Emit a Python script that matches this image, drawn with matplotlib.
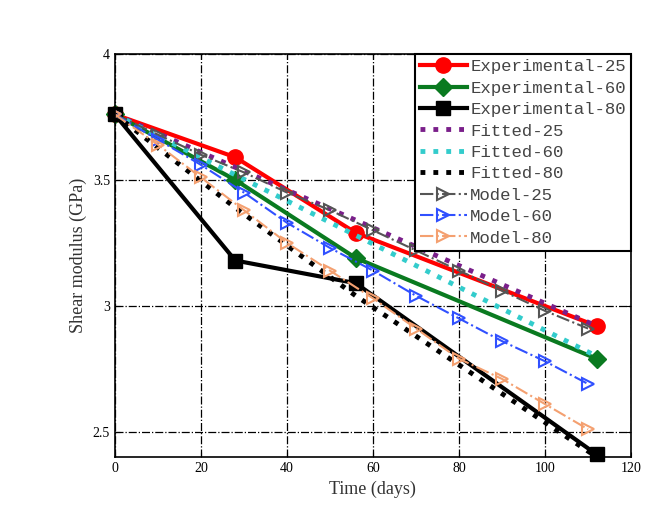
import numpy as np
import matplotlib; matplotlib.use("Agg")
import matplotlib.pyplot as plt
from matplotlib.ticker import FormatStrFormatter

plt.rcParams["font.family"] = ["Liberation Serif", "DejaVu Serif"]

# experimental data (days, GPa)
t_exp = [0, 28, 56, 112]
exp25 = [3.76, 3.59, 3.29, 2.92]
exp60 = [3.76, 3.50, 3.19, 2.79]
exp80 = [3.76, 3.18, 3.09, 2.41]

# fitted curves
t_fit = [0, 28, 56, 84, 112]
fit25 = [3.76, 3.55, 3.34, 3.13, 2.92]
fit60 = [3.76, 3.52, 3.28, 3.04, 2.80]
fit80 = [3.76, 3.39, 3.04, 2.72, 2.40]

# model predictions
t_mod = [0, 10, 20, 30, 40, 50, 60, 70, 80, 90, 100, 110]
mod25 = [3.76, 3.68, 3.60, 3.53, 3.45, 3.38, 3.30, 3.22, 3.14, 3.06, 2.98, 2.91]
mod60 = [3.76, 3.66, 3.56, 3.45, 3.33, 3.23, 3.14, 3.04, 2.95, 2.86, 2.78, 2.69]
mod80 = [3.76, 3.64, 3.51, 3.38, 3.25, 3.14, 3.03, 2.91, 2.79, 2.71, 2.61, 2.51]

xticks = [0, 20, 40, 60, 80, 100, 120]
yticks = [2.5, 3, 3.5, 4]

fig = plt.figure(figsize=(6.56, 5.19), dpi=100)
ax = fig.add_axes([0.175, 0.1195, 0.787, 0.7765])

ax.plot(t_exp, exp25, "-o", color="red", lw=3, ms=11, label="Experimental-25", clip_on=False)
ax.plot(t_exp, exp60, "-D", color="#0a7a20", lw=3, ms=9, label="Experimental-60", clip_on=False)
ax.plot(t_exp, exp80, "-s", color="black", lw=3, ms=10, label="Experimental-80", clip_on=False)

ax.plot(t_fit, fit25, ":", color="#7a1f8a", lw=3.5, label="Fitted-25")
ax.plot(t_fit, fit60, ":", color="#33cccc", lw=3.5, label="Fitted-60")
ax.plot(t_fit, fit80, ":", color="black", lw=3.5, label="Fitted-80")

ax.plot(t_mod, mod25, "-.>", color="#555555", lw=1.5, ms=8, mfc="none", mew=1.5, label="Model-25")
ax.plot(t_mod, mod60, "-.>", color="#3050ff", lw=1.5, ms=8, mfc="none", mew=1.5, label="Model-60")
ax.plot(t_mod, mod80, "-.>", color="#f4a070", lw=1.5, ms=8, mfc="none", mew=1.5, label="Model-80")

ax.set_xlim(0, 120)
ax.set_ylim(2.4, 4)
ax.set_xticks(xticks)
ax.set_yticks(yticks)
ax.yaxis.set_major_formatter(FormatStrFormatter("%g"))
ax.tick_params(direction="in", labelsize=10, top=True, right=True)
ax.grid(True, color="black", ls="-.", lw=0.9)
ax.set_xlabel("Time (days)", fontsize=13, color="#333333")
ax.set_ylabel("Shear modulus (GPa)", fontsize=13, color="#333333")
for s in ax.spines.values():
    s.set_linewidth(1.2)

leg = ax.legend(loc="upper right", framealpha=1, fancybox=False,
                prop={"family": "Liberation Mono", "size": 12.5},
                edgecolor="black", borderaxespad=0, handlelength=2.7,
                labelspacing=0.36, borderpad=0.3, handletextpad=0.2)
leg.get_frame().set_linewidth(1.5)
for t in leg.get_texts():
    t.set_color("#444444")

fig.savefig("out.png", dpi=100)
